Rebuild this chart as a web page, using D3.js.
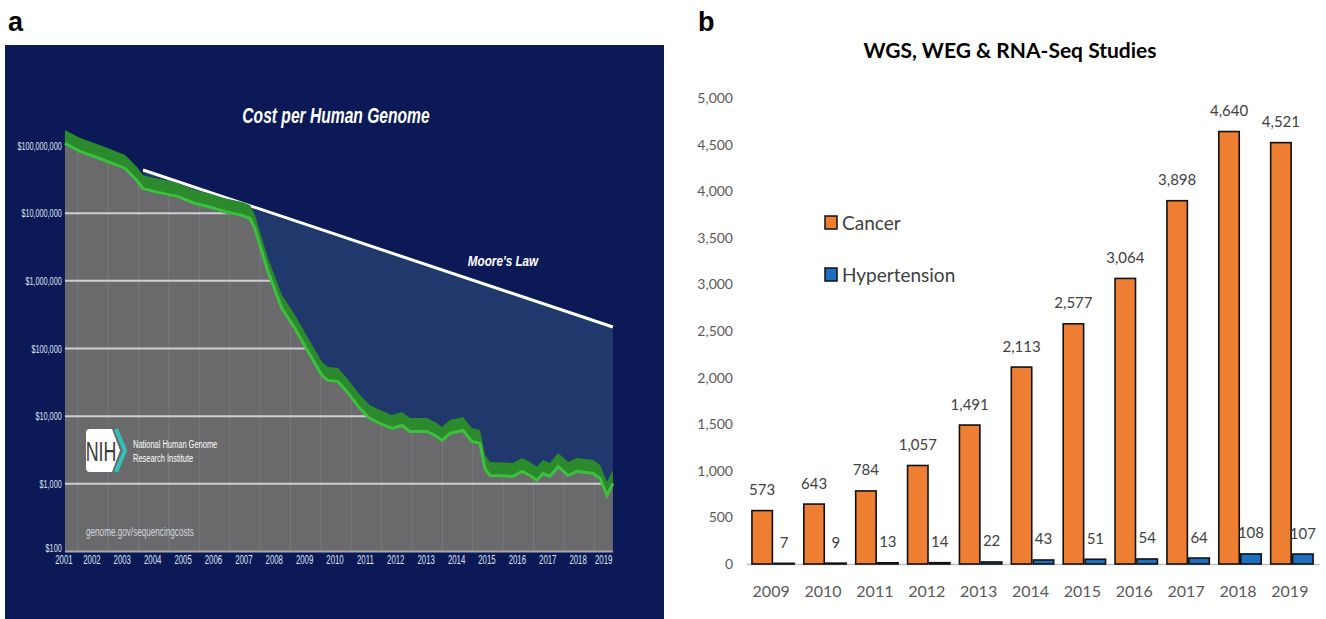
<!DOCTYPE html>
<html>
<head>
<meta charset="utf-8">
<title>Cost per genome and sequencing studies</title>
<script src="https://cdn.jsdelivr.net/npm/d3@7"></script>
<style>
  body { margin: 0; background: #fff; }
  .narrow { font-family: "Liberation Sans", Arial, sans-serif; }
  .calib { font-family: Lato, "Liberation Sans", sans-serif; }
</style>
</head>
<body>
<svg id="fig" width="1326" height="619"></svg>
<script>
// Panel a: cost per human genome (NHGRI)
const costYears = [2001.13, 2001.63, 2002.45, 2003.11, 2003.50, 2003.70, 2004.09, 2004.85,
  2005.41, 2005.84, 2006.40, 2006.96, 2007.22, 2007.38, 2007.61, 2007.81, 2008.27, 2008.70,
  2009.13, 2009.59, 2009.79, 2010.11, 2010.41, 2010.84, 2011.16, 2011.50, 2011.89, 2012.22,
  2012.48, 2013.04, 2013.31, 2013.54, 2013.80, 2014.23, 2014.52, 2014.79, 2014.95, 2015.12,
  2015.87, 2016.17, 2016.43, 2016.66, 2016.86, 2017.09, 2017.36, 2017.69, 2017.98, 2018.51,
  2018.74, 2018.97, 2019.16];
const costValues = [102000000, 77400000, 57000000, 43500000, 28900000, 21900000, 19800000, 16700000,
  13200000, 11900000, 10000000, 8770000, 7920000, 5640000, 2580000, 1310000, 371000, 188000,
  85700, 37800, 31900, 30800, 21900, 12300, 8790, 7410, 6250, 6920,
  5650, 5650, 4930, 4160, 5270, 5840, 4020, 3750, 1600, 1260,
  1220, 1450, 1260, 1070, 1350, 1220, 1710, 1260, 1450, 1350,
  1140, 641, 964];
const mooreYears = [2003.70, 2019.16];
const mooreValues = [43500000, 208000];
const costTicks = [100, 1000, 10000, 100000, 1000000, 10000000, 100000000];
const yearTicks = [2001, 2002, 2003, 2004, 2005, 2006, 2007, 2008, 2009, 2010,
  2011, 2012, 2013, 2014, 2015, 2016, 2017, 2018, 2019];

// Panel b: WGS, WEG & RNA-Seq studies
const studyYears = ["2009", "2010", "2011", "2012", "2013", "2014", "2015", "2016", "2017", "2018", "2019"];
const cancer = [573, 643, 784, 1057, 1491, 2113, 2577, 3064, 3898, 4640, 4521];
const hypertension = [7, 9, 13, 14, 22, 43, 51, 54, 64, 108, 107];
const studyTicks = [0, 500, 1000, 1500, 2000, 2500, 3000, 3500, 4000, 4500, 5000];
const seriesNames = ["Cancer", "Hypertension"];

const svg = d3.select("#fig");

// the left figure is a squeezed screenshot, so its text is narrow
function narrowText(g, x, y, str, size, k, style) {
  const t = g.append("text")
    .attr("class", "narrow")
    .attr("transform", `translate(${x},${y}) scale(${k},1)`)
    .style("font-size", size + "px")
    .text(str);
  Object.entries(style || {}).forEach(([p, v]) => t.style(p, v));
  return t;
}

// ---------- panel a ----------
const a = svg.append("g");
a.append("rect")
  .attr("x", 5).attr("y", 45)
  .attr("width", 659).attr("height", 574)
  .attr("fill", "#0b1a56");

const x = d3.scaleLinear().domain([2001, 2019]).range([61, 608]);
const y = d3.scaleLog().domain([100, 100000000]).range([551.5, 145.5]);

const cost = costYears.map((d, i) => ({ year: d, value: costValues[i] }));
const moore = mooreYears.map((d, i) => ({ year: d, value: mooreValues[i] }));

// region under Moore's law
a.append("path")
  .datum(moore)
  .attr("fill", "#21386d")
  .attr("d", d3.area().x(d => x(d.year)).y0(y(100)).y1(d => y(d.value)));

a.append("path")
  .datum(moore)
  .attr("fill", "none")
  .attr("stroke", "#fff")
  .attr("stroke-width", 3)
  .attr("d", d3.line().x(d => x(d.year)).y(d => y(d.value)));

// gray area under the cost curve
const grayArea = d3.area().x(d => x(d.year)).y0(y(100)).y1(d => y(d.value));
a.append("clipPath").attr("id", "grayClip")
  .append("path").datum(cost).attr("d", grayArea);
a.append("path")
  .datum(cost)
  .attr("fill", "#6a6a6c")
  .attr("d", grayArea);

const grid = a.append("g").attr("clip-path", "url(#grayClip)");
grid.selectAll(".vgrid")
  .data(yearTicks.slice(0, -1))
  .enter().append("line")
  .attr("x1", d => x(d + 0.55)).attr("x2", d => x(d + 0.55))
  .attr("y1", y(100000000) - 20).attr("y2", y(100))
  .attr("stroke", "#79797b").attr("stroke-width", 1);
grid.selectAll(".hgrid")
  .data(costTicks.slice(1, -1))
  .enter().append("line")
  .attr("x1", x(2001)).attr("x2", x(2019.3))
  .attr("y1", d => y(d)).attr("y2", d => y(d))
  .attr("stroke", "#cfcfcf").attr("stroke-width", 2);

a.append("line")
  .attr("x1", x(costYears[0])).attr("x2", x(costYears[costYears.length - 1]))
  .attr("y1", y(100)).attr("y2", y(100))
  .attr("stroke", "#a9a9ab").attr("stroke-width", 2);

// green ribbon along the cost curve
a.append("path")
  .datum(cost)
  .attr("fill", "#2a8a2c")
  .attr("d", d3.area().x(d => x(d.year)).y0(d => y(d.value)).y1(d => y(d.value) - 15));
a.append("path")
  .datum(cost)
  .attr("fill", "none")
  .attr("stroke", "#3fbf40")
  .attr("stroke-width", 3)
  .attr("d", d3.line().x(d => x(d.year)).y(d => y(d.value) - 1.5));

// axes
const ya = a.append("g")
  .attr("class", "narrow")
  .attr("transform", "translate(65,0)")
  .call(d3.axisLeft(y).tickValues(costTicks)
    .tickFormat(d => "$" + d3.format(",")(d)).tickSize(0).tickPadding(5));
ya.select(".domain").remove();
ya.selectAll("text")
  .attr("fill", "#dfe3ef")
  .attr("transform", "scale(0.66,1)")
  .style("font-size", "11px");
ya.selectAll(".tick").filter(d => d === 100).select("text").attr("y", -4);

const xa = a.append("g")
  .attr("class", "narrow")
  .attr("transform", `translate(0,${y(100)})`)
  .call(d3.axisBottom(x).tickValues(yearTicks).tickFormat(d3.format("d")).tickSize(0).tickPadding(3));
xa.select(".domain").remove();
xa.selectAll("text")
  .attr("fill", "#dfe3ef")
  .attr("transform", "scale(0.6,1)")
  .style("font-size", "13px");
xa.selectAll(".tick").filter(d => d === 2001).select("text").attr("x", 4);
xa.selectAll(".tick").filter(d => d === 2019).select("text").attr("x", -8);

// titles and notes
narrowText(a, 336, 123, "Cost per Human Genome", 22, 0.71,
  { "font-weight": "bold", "font-style": "italic", "fill": "#fff", "text-anchor": "middle" });
narrowText(a, 503, 266, "Moore's Law", 15, 0.78,
  { "font-weight": "bold", "font-style": "italic", "fill": "#fff", "text-anchor": "middle" });

// NIH logo
a.append("path")
  .attr("d", "M90,429 H112 L120,450.5 L112,472 H90 Q86,472 86,468 V433 Q86,429 90,429 Z")
  .attr("fill", "#fff");
a.append("path")
  .attr("d", "M116,429 L125,450.5 L116,472")
  .attr("fill", "none").attr("stroke", "#2fc3b8").attr("stroke-width", 4);
narrowText(a, 101, 461, "NIH", 27, 0.66, { "fill": "#3a3a3a", "text-anchor": "middle" });
narrowText(a, 133, 448, "National Human Genome", 11, 0.68, { "fill": "#fff" });
narrowText(a, 133, 462, "Research Institute", 11, 0.68, { "fill": "#fff" });
narrowText(a, 86, 536, "genome.gov/sequencingcosts", 12, 0.68, { "fill": "#d3d6de" });

// ---------- panel b ----------
const b = svg.append("g").attr("class", "calib");

const xb = d3.scaleBand().domain(studyYears).range([746, 1319]).paddingInner(0.154).paddingOuter(0.1);
const xs = d3.scaleBand().domain(seriesNames).range([0, xb.bandwidth()]);
const yb = d3.scaleLinear().domain([0, 5000]).range([564, 98]);
const colors = d3.scaleOrdinal().domain(seriesNames).range(["#ee7f32", "#1f6fc1"]);

const yAxisB = b.append("g")
  .attr("transform", "translate(737,0)")
  .call(d3.axisLeft(yb).tickValues(studyTicks).tickFormat(d3.format(",")).tickSize(0).tickPadding(4));
yAxisB.select(".domain").remove();
yAxisB.selectAll("text").attr("fill", "#595959").style("font-size", "14px").style("font-family", "Lato");

const xAxisB = b.append("g")
  .attr("transform", `translate(0,${yb(0)})`)
  .call(d3.axisBottom(xb).tickSize(0).tickSizeOuter(0).tickPadding(22));
xAxisB.select(".domain").attr("stroke", "#bfbfbf").attr("stroke-width", 1.5);
xAxisB.selectAll("text").attr("fill", "#595959").style("font-size", "16px").style("font-family", "Lato")
  .attr("dx", "-2");

const rows = studyYears.map((d, i) => ({ year: d, Cancer: cancer[i], Hypertension: hypertension[i] }));
const groups = b.selectAll(".yr")
  .data(rows)
  .enter().append("g")
  .attr("transform", d => `translate(${xb(d.year)},0)`);

const cells = groups.selectAll("g")
  .data(d => seriesNames.map(k => ({ key: k, value: d[k] })))
  .enter().append("g");

cells.append("rect")
  .attr("x", d => xs(d.key) + 0.75)
  .attr("y", d => yb(d.value))
  .attr("width", xs.bandwidth() - 1.5)
  .attr("height", d => yb(0) - yb(d.value))
  .attr("fill", d => colors(d.key))
  .attr("stroke", "#111")
  .attr("stroke-width", 1.6);

cells.append("text")
  .attr("x", d => xs(d.key) + xs.bandwidth() / 2)
  .attr("y", d => yb(d.value) - 15.5)
  .attr("text-anchor", "middle")
  .attr("fill", "#404040")
  .style("font-size", "15px")
  .text(d => d3.format(",")(d.value));

// legend
const legend = b.selectAll(".leg")
  .data(seriesNames)
  .enter().append("g")
  .attr("transform", (d, i) => `translate(825,${216 + i * 52})`);
legend.append("rect")
  .attr("width", 12).attr("height", 13)
  .attr("fill", d => colors(d))
  .attr("stroke", "#111").attr("stroke-width", 1.5);
legend.append("text")
  .attr("x", 17).attr("y", 14)
  .attr("fill", "#404040")
  .style("font-size", "19px")
  .text(d => d);

b.append("text")
  .attr("x", 1010).attr("y", 58)
  .attr("text-anchor", "middle")
  .attr("fill", "#000")
  .style("font-size", "21px").style("font-weight", "bold")
  .text("WGS, WEG & RNA-Seq Studies");

// panel letters
svg.selectAll(".letter")
  .data([{ t: "a", x: 8 }, { t: "b", x: 698 }])
  .enter().append("text")
  .attr("x", d => d.x).attr("y", 31)
  .attr("fill", "#000")
  .style("font-family", "'Liberation Sans', sans-serif")
  .style("font-size", "27px").style("font-weight", "bold")
  .text(d => d.t);
</script>
</body>
</html>
